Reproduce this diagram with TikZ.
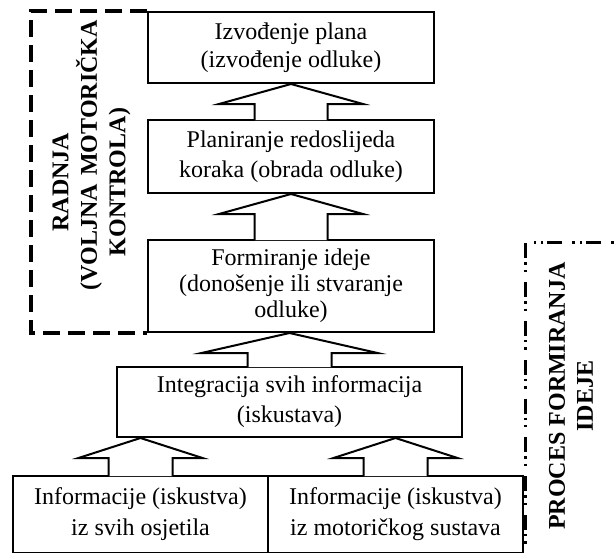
\documentclass[tikz,border=0pt]{standalone}
\usepackage{fontspec}
\setmainfont{Liberation Serif}
\usetikzlibrary{calc}

\begin{document}
\begin{tikzpicture}
        [x=0.5pt,y=-0.5pt,
         box/.style={draw, line width=1pt, inner sep=0pt, align=center, font=\fontsize{12}{15}\selectfont},
         bigarrow/.style={draw, fill=white, line width=1pt, miter limit=15},
         sidetext/.style={rotate=90, align=center, font=\bfseries\fontsize{12}{14}\selectfont}]
      \useasboundingbox (0,0) rectangle (615,552);

      \node[box, minimum width=143pt, minimum height=35.5pt, font=\fontsize{12}{14}\selectfont] (b1) at (291,47.5) {Izvođenje plana\\(izvođenje odluke)};
      \node[box, minimum width=143pt, minimum height=36.5pt] (b2) at (291,156.5) {Planiranje redoslijeda\\koraka (obrada odluke)};
      \node[box, minimum width=143pt, minimum height=46pt, font=\fontsize{12}{13}\selectfont] (b3) at (291,286) {Formiranje ideje\\(donošenje ili stvaranje\\odluke)};
      \node[box, minimum width=172.5pt, minimum height=35pt] (b4) at (289.5,402) {Integracija svih informacija\\(iskustava)};
      \node[box, minimum width=127.5pt, minimum height=38.5pt, font=\fontsize{12}{15.5}\selectfont] (b5a) at (140.5,514.5) {Informacije (iskustva)\\iz svih osjetila};
      \node[box, minimum width=127.5pt, minimum height=38.5pt, font=\fontsize{12}{15.5}\selectfont] (b5b) at (395.5,514.5) {Informacije (iskustva)\\iz motoričkog sustava};

      \foreach \lo/\up/\hs/\hh in {b2/b1/36.5/72, b3/b2/36.5/72, b4/b3/42/88, b5a/b4/32/62, b5b/b4/32/62}
      {
        \coordinate (tip) at (\lo.north |- \up.south);
        \draw[bigarrow] ($(\lo.north)+(-\hs,1)$) |- ($(tip)+(-\hh,20)$) -- (tip) -- ($(tip)+(\hh,20)$) -| ($(\lo.north)+(\hs,1)$);
      }

      \draw[line width=1.8pt, dash pattern=on 8.5pt off 4pt] (b1.north west) -- ++(-116,0) |- (b3.south west);
      \node[sidetext, text width=108pt, font=\bfseries\fontsize{12}{14.25}\selectfont] (radnja) at (91.5,182) {RADNJA\\\mbox{(VOLJNA MOTORIČKA}\\KONTROLA)};

      \draw[line width=1.5pt, dash pattern=on 7.5pt off 2pt on 1.2pt off 2.5pt on 1.2pt off 5pt] (640,242) -| (525,580);
      \node[sidetext] (proces) at (571,396) {PROCES FORMIRANJA\\IDEJE};
    \end{tikzpicture}
\end{document}
